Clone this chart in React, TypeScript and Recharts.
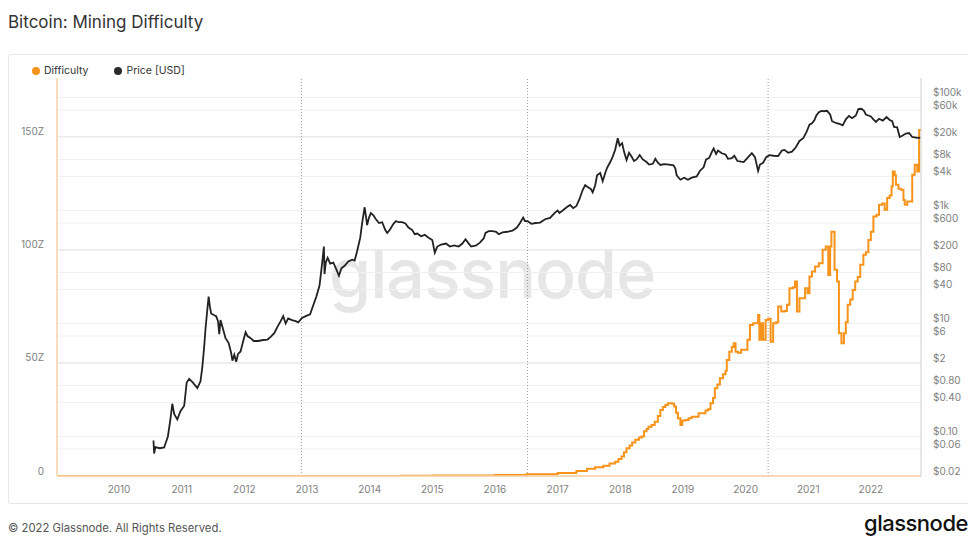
import React from "react";
import {
  ComposedChart,
  Line,
  XAxis,
  YAxis,
  ReferenceLine,
} from "recharts";

// ---------- DATA ----------
const priceDates = [
  2010.55, 2010.56, 2010.58, 2010.65, 2010.72, 2010.78, 2010.82, 2010.85, 2010.88, 2010.93, 2010.98,
  2011.04, 2011.08, 2011.12, 2011.18, 2011.25, 2011.3, 2011.33, 2011.36, 2011.38, 2011.41, 2011.43,
  2011.45, 2011.47, 2011.52, 2011.55, 2011.58, 2011.6, 2011.62, 2011.66, 2011.7, 2011.75, 2011.79,
  2011.81, 2011.84, 2011.87, 2011.9, 2011.94, 2011.98, 2012.02, 2012.05, 2012.1, 2012.15, 2012.22,
  2012.3, 2012.37, 2012.42, 2012.48, 2012.53, 2012.58, 2012.62, 2012.66, 2012.7, 2012.76, 2012.82,
  2012.86, 2012.92, 2012.98, 2013.05, 2013.1, 2013.15, 2013.2, 2013.23, 2013.27, 2013.28, 2013.3,
  2013.33, 2013.37, 2013.42, 2013.47, 2013.51, 2013.55, 2013.6, 2013.66, 2013.72, 2013.76, 2013.8,
  2013.85, 2013.88, 2013.92, 2013.94, 2013.96, 2013.99, 2014.02, 2014.06, 2014.1, 2014.15, 2014.2,
  2014.25, 2014.28, 2014.32, 2014.38, 2014.42, 2014.46, 2014.52, 2014.57, 2014.62, 2014.68, 2014.72,
  2014.76, 2014.82, 2014.88, 2014.94, 2015.0, 2015.04, 2015.08, 2015.14, 2015.22, 2015.28, 2015.35,
  2015.42, 2015.48, 2015.53, 2015.57, 2015.62, 2015.7, 2015.76, 2015.82, 2015.85, 2015.9, 2015.96,
  2016.02, 2016.06, 2016.12, 2016.2, 2016.28, 2016.35, 2016.4, 2016.45, 2016.48, 2016.52, 2016.58,
  2016.65, 2016.72, 2016.8, 2016.88, 2016.95, 2017.0, 2017.03, 2017.08, 2017.15, 2017.2, 2017.25,
  2017.3, 2017.35, 2017.4, 2017.44, 2017.48, 2017.53, 2017.56, 2017.6, 2017.63, 2017.68, 2017.72,
  2017.76, 2017.79, 2017.84, 2017.88, 2017.92, 2017.96, 2017.99, 2018.03, 2018.06, 2018.1, 2018.14,
  2018.18, 2018.22, 2018.26, 2018.31, 2018.36, 2018.42, 2018.46, 2018.52, 2018.56, 2018.6, 2018.64,
  2018.7, 2018.78, 2018.85, 2018.88, 2018.9, 2018.96, 2019.02, 2019.08, 2019.14, 2019.22, 2019.27,
  2019.33, 2019.37, 2019.42, 2019.46, 2019.49, 2019.53, 2019.56, 2019.62, 2019.68, 2019.72, 2019.78,
  2019.82, 2019.87, 2019.93, 2019.97, 2020.03, 2020.1, 2020.15, 2020.2, 2020.23, 2020.28, 2020.33,
  2020.38, 2020.45, 2020.52, 2020.58, 2020.62, 2020.68, 2020.74, 2020.8, 2020.86, 2020.92, 2020.97,
  2021.02, 2021.06, 2021.1, 2021.13, 2021.17, 2021.21, 2021.25, 2021.3, 2021.35, 2021.38, 2021.45,
  2021.5, 2021.55, 2021.6, 2021.65, 2021.7, 2021.76, 2021.8, 2021.85, 2021.89, 2021.92, 2021.96,
  2022.0, 2022.04, 2022.08, 2022.13, 2022.19, 2022.25, 2022.3, 2022.34, 2022.37, 2022.42, 2022.46,
  2022.5, 2022.56, 2022.61, 2022.66, 2022.72, 2022.76, 2022.79,
];
const priceUsd = [
  0.085, 0.05, 0.065, 0.062, 0.064, 0.1, 0.2, 0.38, 0.25, 0.2, 0.28,
  0.35, 0.9, 1.05, 0.9, 0.72, 0.95, 1.7, 4, 8, 18, 29.8,
  20, 15, 14, 13.5, 11, 6.5, 11.5, 8, 5.5, 4.5, 3,
  2.2, 2.8, 2.1, 2.9, 3.2, 4.8, 7, 6, 5.5, 4.9, 4.9,
  5.1, 5.2, 5.8, 6.8, 8.8, 11, 13.5, 10, 12.3, 11.5, 11,
  10.5, 12.5, 13.5, 14.5, 21, 30, 47, 90, 230, 75, 120,
  145, 115, 120, 90, 70, 95, 105, 125, 135, 130, 190,
  330, 600, 1140, 800, 550, 750, 900, 820, 700, 600, 620,
  450, 400, 450, 580, 650, 620, 620, 590, 500, 450, 380,
  390, 350, 370, 330, 300, 180, 230, 250, 260, 230, 240,
  230, 260, 310, 270, 230, 240, 270, 320, 400, 430, 430,
  420, 380, 410, 420, 440, 500, 600, 750, 650, 650, 580,
  600, 610, 700, 740, 900, 1000, 900, 1000, 1150, 1250, 1100,
  1200, 1600, 2300, 2800, 2600, 2400, 2100, 2800, 4200, 4600, 3300,
  4600, 5700, 7200, 9000, 12000, 19000, 14000, 15500, 11000, 7800, 10500,
  9000, 7500, 8000, 9600, 8000, 7200, 6500, 6700, 8200, 7000, 6400,
  6600, 6500, 6300, 5500, 4200, 3500, 3800, 3500, 3800, 4000, 5000,
  5800, 8000, 8500, 10800, 12500, 10000, 11500, 10300, 9800, 8200, 8400,
  9300, 7500, 7300, 7200, 8500, 10300, 8800, 5000, 6500, 7000, 8800,
  9500, 9300, 9200, 11500, 11800, 10500, 11000, 13000, 17000, 19000, 24000,
  33000, 35000, 40000, 48000, 55000, 58000, 57000, 58000, 50000, 38000, 35000,
  34000, 32000, 41000, 47000, 43000, 48000, 62000, 63000, 58000, 50000, 48000,
  46000, 41000, 37000, 42000, 39000, 45000, 40000, 38000, 30000, 29500, 20000,
  21000, 23000, 23500, 20000, 19500, 19200, 19500,
];

const diffDates = [
  2009.01, 2012.0, 2013.0, 2014.0, 2014.5, 2015.0, 2015.5, 2016.0, 2016.5, 2017.0, 2017.3,
  2017.47, 2017.6, 2017.73, 2017.83, 2017.92, 2017.97, 2018.02, 2018.06, 2018.1, 2018.15, 2018.19,
  2018.24, 2018.3, 2018.34, 2018.38, 2018.42, 2018.45, 2018.5, 2018.55, 2018.6, 2018.64, 2018.68,
  2018.72, 2018.76, 2018.83, 2018.86, 2018.89, 2018.92, 2018.96, 2018.99, 2019.04, 2019.09, 2019.14,
  2019.19, 2019.25, 2019.3, 2019.36, 2019.4, 2019.44, 2019.48, 2019.51, 2019.55, 2019.59, 2019.64,
  2019.68, 2019.7, 2019.74, 2019.78, 2019.81, 2019.84, 2019.88, 2019.93, 2019.99, 2020.03, 2020.07,
  2020.12, 2020.18, 2020.2, 2020.22, 2020.25, 2020.28, 2020.32, 2020.36, 2020.4, 2020.44, 2020.49,
  2020.52, 2020.57, 2020.62, 2020.66, 2020.7, 2020.76, 2020.79, 2020.82, 2020.86, 2020.91, 2020.95,
  2020.99, 2021.02, 2021.06, 2021.11, 2021.17, 2021.23, 2021.28, 2021.32, 2021.35, 2021.37, 2021.4,
  2021.42, 2021.46, 2021.49, 2021.53, 2021.57, 2021.6, 2021.63, 2021.67, 2021.71, 2021.75, 2021.79,
  2021.83, 2021.88, 2021.92, 2021.96, 2022.0, 2022.04, 2022.09, 2022.13, 2022.18, 2022.22, 2022.26,
  2022.3, 2022.33, 2022.35, 2022.38, 2022.4, 2022.44, 2022.48, 2022.52, 2022.54, 2022.58, 2022.63,
  2022.66, 2022.7, 2022.74, 2022.77, 2022.8,
];
const diffValues = [
  0, 0.0005, 0.001, 0.006, 0.08, 0.17, 0.22, 0.45, 0.8, 1.35, 2.2,
  3.2, 3.9, 4.5, 5.5, 6.3, 7.5, 8.6, 10.5, 12.3, 13.5, 14.8,
  16, 17, 17.5, 19.8, 20.8, 21.8, 22.5, 24, 26.5, 29.2, 30.5,
  31.4, 32.2, 32, 30.7, 28, 25.5, 22.6, 24.5, 24.8, 25.5, 26.2,
  26.2, 27.7, 27.7, 29, 29.5, 32.2, 34.5, 38.8, 40.5, 43.2, 45,
  46.5, 51.3, 55, 57, 58.7, 55, 54.5, 55.8, 55.8, 60.2, 66.8,
  67.6, 67.6, 71.2, 60.2, 67.6, 60.2, 69, 69.5, 59.4, 67.6, 68,
  74.9, 72.7, 73, 75.7, 83, 83.5, 86, 72.7, 78.6, 78.6, 83,
  80.8, 88.2, 90.4, 92.6, 94.1, 100, 101.5, 88.9, 101.5, 108, 108,
  91.2, 86, 63.1, 58.7, 63.1, 68, 75.7, 78, 82.3, 86, 88,
  93.4, 97.8, 99, 104.4, 108, 114.7, 115.5, 120, 120.5, 117.7, 122.9,
  124, 128, 134.7, 133, 128.8, 127, 126.6, 122, 120, 121.4, 121.4,
  133.2, 137.6, 134.7, 153, 153,
];

const yearTicks = [2010, 2011, 2012, 2013, 2014, 2015, 2016, 2017, 2018, 2019, 2020, 2021, 2022];
const leftTicks = [0, 50, 100, 150];
const leftTickLabels = ["0", "50Z", "100Z", "150Z"];
const rightTicks = [0.02, 0.06, 0.1, 0.4, 0.8, 2, 6, 10, 40, 80, 200, 600, 1000, 4000, 8000, 20000, 60000, 100000];
const rightTickLabels = ["$0.02", "$0.06", "$0.10", "$0.40", "$0.80", "$2", "$6", "$10", "$40", "$80", "$200", "$600", "$1k", "$4k", "$8k", "$20k", "$60k", "$100k"];
const halvings = [2012.91, 2016.52, 2020.36];

const priceData = priceDates.map((t, i) => ({ t, v: priceUsd[i] }));
const diffData = diffDates.map((t, i) => ({ t, v: diffValues[i] }));

const FONT = "Inter, 'Noto Sans', sans-serif";
const ORANGE = "#f7931a";

const LeftTick = (props: any) => {
  const i = leftTicks.indexOf(props.payload.value);
  return (
    <text x={props.x} y={props.y - 5} dy="0.355em" textAnchor="end" fontSize={10} fill="#808080" fontFamily={FONT}>
      {leftTickLabels[i]}
    </text>
  );
};
const RightTick = (props: any) => {
  const i = rightTicks.indexOf(props.payload.value);
  return (
    <text x={props.x} y={props.y - 5} dy="0.355em" textAnchor="start" fontSize={10} fill="#808080" fontFamily={FONT}>
      {rightTickLabels[i]}
    </text>
  );
};
const XTick = (props: any) => (
  <text x={props.x} y={props.y} dy="0.355em" textAnchor="middle" fontSize={10} fill="#808080" fontFamily={FONT}>
    {props.payload.value}
  </text>
);

export default function App() {
  return (
    <div style={{ position: "relative", width: 968, height: 537, overflow: "hidden", background: "#fff", fontFamily: FONT }}>
      <style>{"body{margin:0;overflow:hidden}"}</style>
      <div style={{ position: "absolute", left: 8, top: 12, fontSize: 17, color: "#333", whiteSpace: "nowrap" }}>
        Bitcoin: Mining Difficulty
      </div>
      <div style={{ position: "absolute", left: 8, top: 54, width: 990, height: 448, border: "1px solid #e8e8e8", borderRadius: 2 }} />
      <div style={{ position: "absolute", left: 329, top: 232, fontSize: 68, color: "#e6e6e6", fontWeight: 500, letterSpacing: -1, whiteSpace: "nowrap" }}>
        glassnode
      </div>
      <div style={{ position: "absolute", left: 32, top: 64, fontSize: 10.5, color: "#333", display: "flex", alignItems: "center", whiteSpace: "nowrap" }}>
        <span style={{ width: 8, height: 8, borderRadius: 4, background: ORANGE, display: "inline-block", marginRight: 4 }} />
        <span>Difficulty</span>
        <span style={{ width: 8, height: 8, borderRadius: 4, background: "#2b2b2b", display: "inline-block", marginLeft: 26, marginRight: 4 }} />
        <span>Price [USD]</span>
      </div>
      <div style={{ position: "absolute", left: 0, top: 0, zIndex: 1 }}>
        <ComposedChart width={968} height={537} margin={{ top: 78, right: 7, bottom: 31, left: 17 }}>
          <XAxis
            xAxisId="x"
            dataKey="t"
            type="number"
            domain={[2009.01, 2022.8]}
            allowDataOverflow
            ticks={yearTicks}
            interval={0}
            tick={<XTick />}
            tickSize={0}
            tickMargin={13}
            height={30}
            axisLine={{ stroke: "#f9d3a6", strokeWidth: 1.5 }}
            tickLine={false}
          />
          <YAxis
            yAxisId="left"
            orientation="left"
            type="number"
            domain={[0, 176]}
            allowDataOverflow
            ticks={leftTicks}
            interval={0}
            tick={<LeftTick />}
            tickSize={0}
            tickMargin={13}
            width={40}
            axisLine={{ stroke: "#f9d3a6", strokeWidth: 1.5 }}
            tickLine={false}
          />
          <YAxis
            yAxisId="right"
            orientation="right"
            type="number"
            scale="log"
            domain={[0.02, 221000]}
            allowDataOverflow
            ticks={rightTicks}
            interval={0}
            tick={<RightTick />}
            tickSize={0}
            tickMargin={12}
            width={40}
            axisLine={{ stroke: "#cfcfcf" }}
            tickLine={false}
          />
          {rightTicks.map((v) => (
            <ReferenceLine key={"r" + v} xAxisId="x" yAxisId="right" y={v} stroke="#f0f0f0" strokeWidth={1} />
          ))}
          {leftTicks.map((v) => (
            <ReferenceLine key={"l" + v} xAxisId="x" yAxisId="left" y={v} stroke="#e6e6e6" strokeWidth={1} />
          ))}
          {halvings.map((v) => (
            <ReferenceLine key={"h" + v} xAxisId="x" yAxisId="left" x={v} stroke="#9a9a9a" strokeDasharray="1 2" strokeWidth={1} />
          ))}
          <Line
            xAxisId="x"
            yAxisId="left"
            data={diffData}
            dataKey="v"
            type="stepAfter"
            stroke={ORANGE}
            strokeWidth={2}
            dot={false}
            activeDot={false}
            isAnimationActive={false}
          />
          <Line
            xAxisId="x"
            yAxisId="right"
            data={priceData}
            dataKey="v"
            type="linear"
            stroke="#222"
            strokeWidth={1.8}
            dot={false}
            activeDot={false}
            isAnimationActive={false}
          />
        </ComposedChart>
      </div>
      <div style={{ position: "absolute", left: 8, top: 521, fontSize: 11.3, color: "#555", whiteSpace: "nowrap" }}>
        © 2022 Glassnode. All Rights Reserved.
      </div>
      <div style={{ position: "absolute", left: 864, top: 510, fontSize: 22, color: "#111", fontWeight: 500, whiteSpace: "nowrap", letterSpacing: -0.5 }}>
        glassnode
      </div>
    </div>
  );
}
